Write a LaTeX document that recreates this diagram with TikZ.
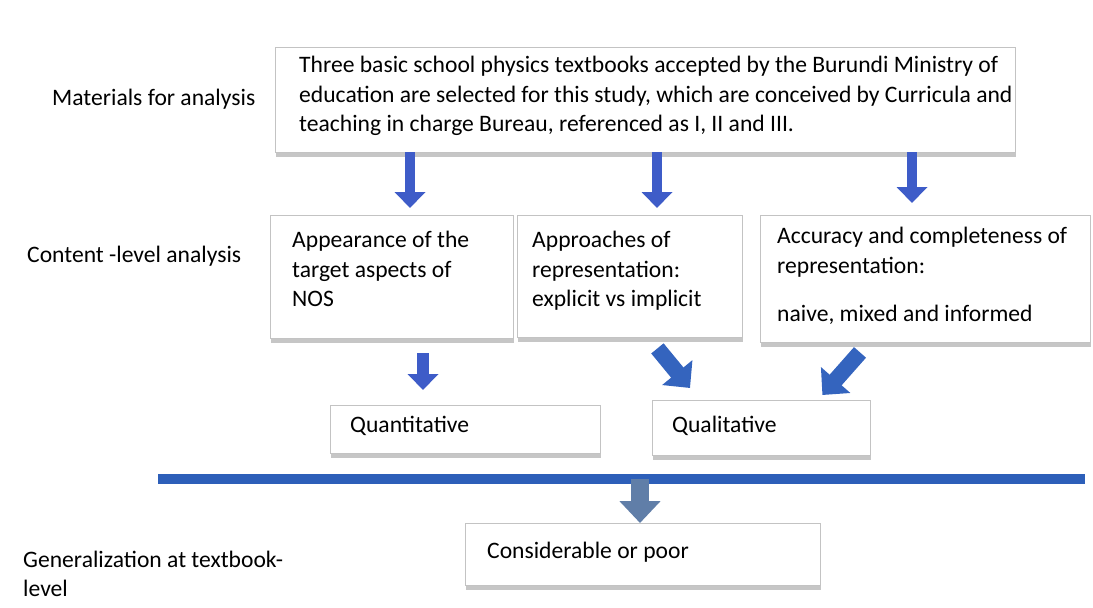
\documentclass[tikz,border=0pt]{standalone}
\usepackage{fontspec}
\setmainfont{Carlito}
\usetikzlibrary{arrows.meta, positioning, calc, shadows}

\definecolor{arrowblue}{RGB}{62,92,200}
\definecolor{diagblue}{RGB}{52,100,190}
\definecolor{barblue}{RGB}{45,95,185}
\definecolor{greyblue}{RGB}{96,126,168}
\definecolor{boxline}{RGB}{195,195,195}

\newcommand{\boxtext}[3]{\parbox[t][#2pt][t]{#1pt}{\raggedright #3}}

\begin{document}
\begin{tikzpicture}[
    x=1pt, y=-1pt,
    font=\fontsize{23.6}{29.5}\selectfont,
    box/.style={
        draw=boxline,
        fill=white,
        anchor=north west,
        drop shadow={shadow xshift=1pt, shadow yshift=-5pt, opacity=0.45}
    },
    sidelabel/.style={
        anchor=base west,
        inner sep=0pt
    },
    blockarrow/.style={
        draw=arrowblue,
        line width=10pt,
        -{Triangle[width=30pt,length=16pt]}
    },
    widearrow/.style={
        draw=diagblue,
        line width=16pt,
        -{Triangle[width=38pt,length=20pt]}
    }
]
  \useasboundingbox (0,0) rectangle (1093,608);

  % side labels
  \node[sidelabel] (lblmat) at (52,105) {Materials for analysis};
  \node[sidelabel] (lblcont) at (27,262) {Content -level analysis};
  \node[sidelabel] (lblgen) at (23,567) {\parbox[t]{300pt}{Generalization at textbook-\\level}};

  % boxes
  \node[box, inner xsep=24pt, inner ysep=9pt] (materials) at (275,47) {\boxtext{692}{87}{\mbox{Three basic school physics textbooks accepted by the Burundi Ministry of}\\\mbox{education are selected for this study, which are conceived by Curricula and}\\\mbox{teaching in charge Bureau, referenced as I, II and III.}}};
  \node[box, inner xsep=22pt, inner ysep=16pt] (appear) at (270,215) {\boxtext{199}{91}{Appearance of the\\target aspects of\\NOS}};
  \node[box, inner xsep=15pt, inner ysep=16pt] (approach) at (517,215) {\boxtext{195}{90}{Approaches of\\representation:\\explicit vs implicit}};
  \node[box, inner xsep=17pt, inner ysep=12pt] (accuracy) at (760,215) {\boxtext{296}{103}{\mbox{Accuracy and completeness of}\\representation:\\[19pt]naive, mixed and informed}};
  \node[box, inner xsep=20pt, inner ysep=11pt] (quanti) at (330,405) {\boxtext{230}{26}{Quantitative}};
  \node[box, inner xsep=20pt, inner ysep=16pt] (quali) at (652,400) {\boxtext{178}{23}{Qualitative}};
  \node[box, inner xsep=22pt, inner ysep=19pt] (general) at (465,523) {\boxtext{311}{24}{Considerable or poor}};

  % bar
  \coordinate (barleft) at (158,479);
  \coordinate (barright) at (1085,479);
  \draw[draw=barblue, line width=10pt] (barleft) -- (barright);

  % arrows
  \draw[blockarrow, shorten >=7pt] (410,0 |- materials.south) -- (410,0 |- appear.north);
  \draw[blockarrow, shorten >=7pt] (657,0 |- materials.south) -- (657,0 |- approach.north);
  \draw[blockarrow, shorten >=12pt] (912,0 |- materials.south) -- (912,0 |- accuracy.north);
  \draw[blockarrow, line width=12pt, shorten <=15pt, shorten >=15pt] (423,0 |- appear.south) -- (423,0 |- quanti.north);
  \draw[widearrow] ($(approach.south east)+(-85,11)$) -- ($(quali.north west)+(38,-12)$);
  \draw[widearrow] ($(accuracy.south west)+(100,10)$) -- ($(quali.north east)+(-48,-5)$);
  \draw[draw=greyblue, line width=18pt, -{Triangle[width=40pt,length=22pt]}] (640,0 |- barleft) -- (640,0 |- general.north);
\end{tikzpicture}
\end{document}
